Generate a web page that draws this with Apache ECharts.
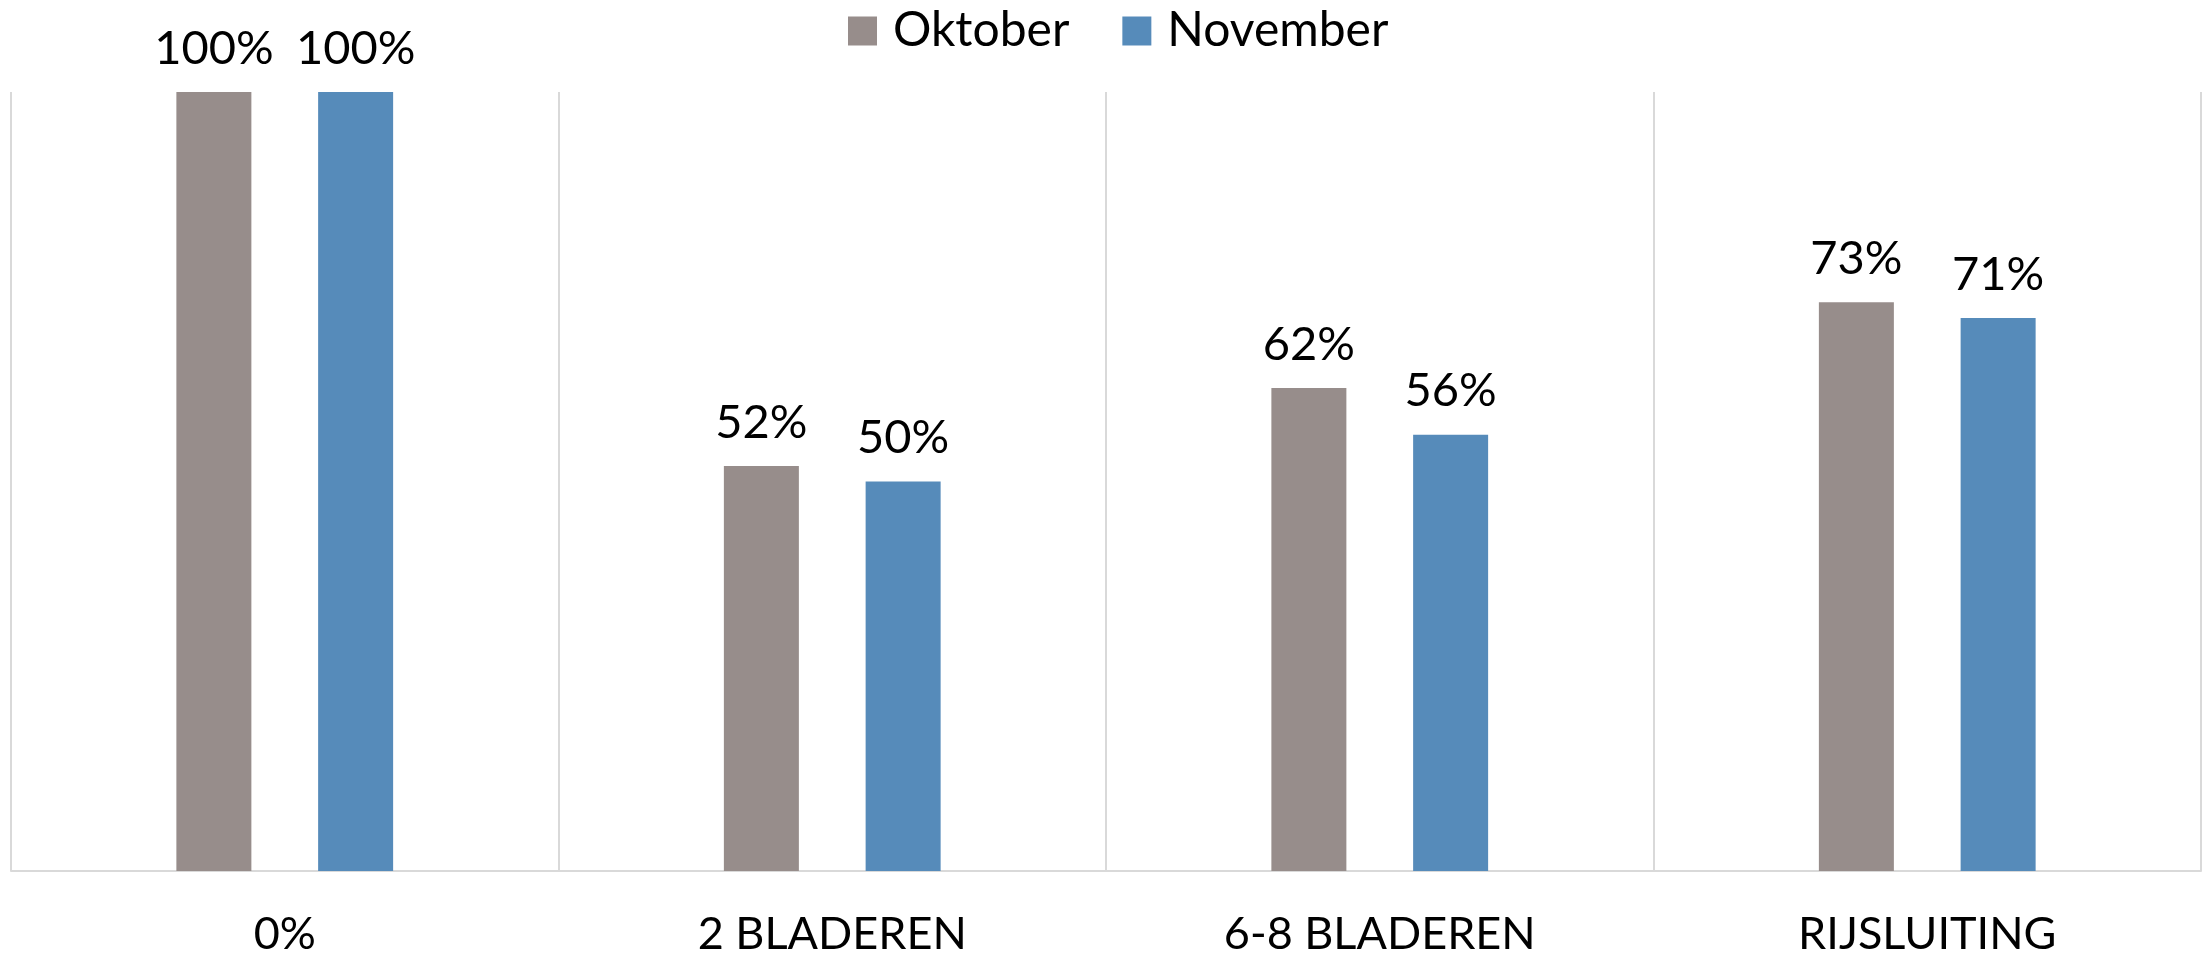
<!DOCTYPE html>
<html>
<head>
<meta charset="utf-8">
<script src="https://cdn.jsdelivr.net/npm/echarts@6/dist/echarts.min.js"></script>
<style>
html,body{margin:0;padding:0;background:#fff;}
#chart{width:2208px;height:957px;}
</style>
</head>
<body>
<div id="chart"></div>
<script>
const categories = ['0%', '2 BLADEREN', '6-8 BLADEREN', 'RIJSLUITING'];
const oktober = [100, 52, 62, 73];
const november = [100, 50, 56, 71];
const seriesNames = ['Oktober', 'November'];

const FONT = 'Lato, "Open Sans", sans-serif';
const chart = echarts.init(document.getElementById('chart'));
const labelCfg = {
  show: true,
  position: 'top',
  distance: 20,
  formatter: p => p.value + '%',
  color: '#000',
  fontFamily: FONT,
  fontSize: 47
};
chart.setOption({
  animation: false,
  backgroundColor: '#fff',
  legend: {
    top: 2,
    left: 843,
    itemWidth: 29,
    itemHeight: 29,
    itemGap: 53,
    icon: 'rect',
    textStyle: { color: '#000', fontFamily: FONT, fontSize: 48, padding: [0, 0, 0, 11] },
    data: seriesNames
  },
  grid: { left: 11, right: 7, top: 92, bottom: 80, containLabel: false },
  xAxis: {
    type: 'category',
    data: categories,
    axisLine: { show: true, lineStyle: { color: '#d9d9d9', width: 2 } },
    axisTick: { show: false },
    splitLine: { show: true, lineStyle: { color: '#d9d9d9', width: 2 } },
    axisLabel: { color: '#000', fontFamily: FONT, fontSize: 45, margin: 41, interval: 0 }
  },
  yAxis: {
    type: 'value',
    min: 0,
    max: 100,
    show: false,
    splitLine: { show: false }
  },
  series: [
    {
      name: seriesNames[0],
      type: 'bar',
      data: oktober,
      barWidth: 75,
      barGap: '89%',
      itemStyle: { color: '#978d8b' },
      label: labelCfg
    },
    {
      name: seriesNames[1],
      type: 'bar',
      data: november,
      barWidth: 75,
      barGap: '89%',
      itemStyle: { color: '#568bba' },
      label: labelCfg
    }
  ]
});
</script>
</body>
</html>
